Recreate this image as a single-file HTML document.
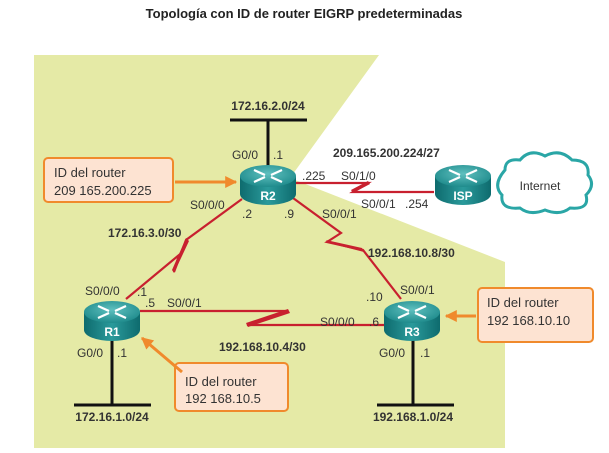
<!DOCTYPE html>
<html><head><meta charset="utf-8"><style>
body{margin:0;background:#fff;}
svg text{font-family:"Liberation Sans",sans-serif;}
</style></head><body>
<svg width="609" height="448" viewBox="0 0 609 448" xmlns="http://www.w3.org/2000/svg">
<defs>
<linearGradient id="rb" x1="0" x2="1" y1="0" y2="0">
<stop offset="0" stop-color="#0e6b6e"/><stop offset="0.5" stop-color="#2a9a9b"/><stop offset="1" stop-color="#0e6b6e"/>
</linearGradient>
<radialGradient id="rt" cx="0.5" cy="0.4" r="0.6">
<stop offset="0" stop-color="#5fc0bf"/><stop offset="1" stop-color="#1f8b8c"/>
</radialGradient>
<g id="router">
<path d="M-28,-6 L-28,12 A28,11 0 0 0 28,12 L28,-6 Z" fill="url(#rb)"/>
<ellipse cx="0" cy="-6" rx="28" ry="11" fill="url(#rt)"/>
<g stroke="#fff" stroke-width="2.2" fill="#fff">
<line x1="-14" y1="-12" x2="-3" y2="-7"/><line x1="14" y1="-12" x2="3" y2="-7"/>
<line x1="-14" y1="0" x2="-3" y2="-5"/><line x1="14" y1="0" x2="3" y2="-5"/>
</g>
</g>
<marker id="ah" viewBox="0 0 10 10" refX="9" refY="5" markerWidth="4" markerHeight="4" orient="auto"><path d="M0,0 L10,5 L0,10 Z" fill="#f08a2c"/></marker>
</defs>
<text x="304" y="18" text-anchor="middle" font-size="13" font-weight="bold" fill="#222">Topología con ID de router EIGRP predeterminadas</text>
<polygon points="34,55 379,55 290,178 505,262 505,448 34,448" fill="#e5eaa6"/>
<g stroke="#111" stroke-width="3">
<line x1="268" y1="120" x2="268" y2="168"/><line x1="230" y1="120" x2="307" y2="120"/>
<line x1="112" y1="330" x2="112" y2="405"/><line x1="74" y1="405" x2="151" y2="405"/>
<line x1="413" y1="330" x2="413" y2="405"/><line x1="377" y1="405" x2="454" y2="405"/>
</g>
<g stroke="#c8202f" stroke-width="2.2" fill="none" stroke-linejoin="miter">
<polyline points="296,183 368,183 353,192 434,192"/>
<polyline points="242,199 186,240 174,272 179,255 126,299"/>
<polyline points="293,198 341,233 327,242 363,250 401,299"/>
<polyline points="140,311 288,311 247,325 386,325"/>
</g>
<g fill="#c8202f">
<polygon points="368,181 370,184 353,193 351,190"/>
<polygon points="186,238 189,241 174,273 172,270"/>
<polygon points="326,240 329,243 364,252 362,248"/>
<polygon points="288,309 290,313 248,327 246,323"/>
</g>
<path d="M505,170 Q505,158 520,160 Q530,148 545,156 Q560,148 572,160 Q590,160 588,175 Q596,185 586,195 Q590,210 570,208 Q560,216 545,210 Q530,216 520,208 Q500,210 502,195 Q492,185 505,170 Z" fill="#fff" stroke="#2aa6a6" stroke-width="3"/>
<text x="540" y="190" text-anchor="middle" font-size="12" fill="#333">Internet</text>
<use href="#router" x="268" y="182"/>
<use href="#router" x="463" y="182"/>
<use href="#router" x="112" y="318"/>
<use href="#router" x="412" y="318"/>
<g font-size="12" font-weight="bold" fill="#fff" text-anchor="middle">
<text x="268" y="200">R2</text><text x="463" y="200">ISP</text><text x="112" y="336">R1</text><text x="412" y="336">R3</text>
</g>
<g fill="#fde3d2" stroke="#f08a2c" stroke-width="2">
<rect x="44" y="158" width="129" height="44" rx="4"/>
<rect x="478" y="288" width="115" height="54" rx="4"/>
<rect x="175" y="363" width="113" height="48" rx="4"/>
</g>
<g stroke="#f08a2c" stroke-width="3" marker-end="url(#ah)">
<line x1="175" y1="182" x2="236" y2="182"/>
<line x1="476" y1="316" x2="446" y2="316"/>
<line x1="182" y1="372" x2="142" y2="338"/>
</g>
<g font-size="13" fill="#333">
<text x="54" y="177">ID del router</text><text x="54" y="195">209 165.200.225</text>
<text x="487" y="307">ID del router</text><text x="487" y="325">192 168.10.10</text>
<text x="185" y="386">ID del router</text><text x="185" y="403">192 168.10.5</text>
</g>
<g font-size="12" font-weight="bold" fill="#333">
<text x="268" y="110" text-anchor="middle">172.16.2.0/24</text>
<text x="333" y="157">209.165.200.224/27</text>
<text x="108" y="237">172.16.3.0/30</text>
<text x="368" y="257">192.168.10.8/30</text>
<text x="219" y="351">192.168.10.4/30</text>
<text x="112" y="421" text-anchor="middle">172.16.1.0/24</text>
<text x="413" y="421" text-anchor="middle">192.168.1.0/24</text>
</g>
<g font-size="12" fill="#333">
<text x="232" y="159">G0/0</text><text x="273" y="159">.1</text>
<text x="302" y="180">.225</text><text x="341" y="180">S0/1/0</text>
<text x="361" y="208">S0/0/1</text><text x="405" y="208">.254</text>
<text x="190" y="209">S0/0/0</text><text x="242" y="218">.2</text><text x="284" y="218">.9</text><text x="322" y="218">S0/0/1</text>
<text x="85" y="295">S0/0/0</text><text x="137" y="296">.1</text><text x="145" y="307">.5</text><text x="167" y="307">S0/0/1</text>
<text x="366" y="301">.10</text><text x="400" y="294">S0/0/1</text>
<text x="320" y="326">S0/0/0</text><text x="369" y="326">.6</text>
<text x="77" y="357">G0/0</text><text x="117" y="357">.1</text>
<text x="379" y="357">G0/0</text><text x="420" y="357">.1</text>
</g>
</svg>
</body></html>
